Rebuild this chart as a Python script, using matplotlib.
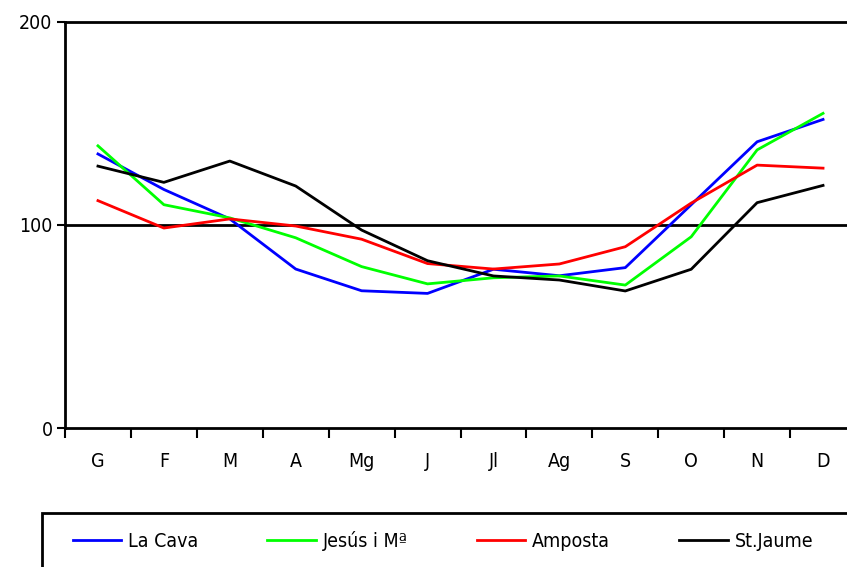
import matplotlib
matplotlib.use("Agg")
import matplotlib.pyplot as plt
from matplotlib.patches import Rectangle
import numpy as np

# month labels (Catalan)
months = ["G", "F", "M", "A", "Mg", "J", "Jl", "Ag", "S", "O", "N", "D"]

la_cava = [135, 117.5, 103, 78.3, 67.6, 66.3, 78.2, 75, 79, 110, 141, 152]
jesus = [139, 110, 103.5, 93.7, 79.5, 71, 74, 74.9, 70.4, 94.2, 137, 155]
amposta = [112, 98.5, 103, 99.5, 93, 81, 78.3, 80.8, 89.3, 110.8, 129.5, 128]
st_jaume = [129, 121, 131.5, 119.2, 97.5, 82.4, 74.9, 72.9, 67.5, 78.2, 111, 119.5]

series = [
    ("La Cava", la_cava, "#0000ff"),
    ("Jesús i Mª", jesus, "#00ff00"),
    ("Amposta", amposta, "#ff0000"),
    ("St.Jaume", st_jaume, "#000000"),
]

plt.rcParams['font.family'] = ['DejaVu Sans']
plt.rcParams['font.stretch'] = 'condensed'
fs = 14

W, H = 847, 567
fig = plt.figure(figsize=(W / 100, H / 100), dpi=100)
ax = fig.add_axes([65 / W, 1 - 428 / H, (856 - 65) / W, (428 - 22) / H])

x = np.arange(len(months))
for name, vals, col in series:
    ax.plot(x, vals, color=col, lw=2.0, label=name, clip_on=False, zorder=3)

ax.set_xlim(-0.5, len(months) - 0.5)
ax.set_ylim(0, 200)

# horizontal grid lines
for yv in [100, 200]:
    ax.axhline(yv, color="black", lw=2.0, zorder=1, clip_on=False)

for s in ["top", "right"]:
    ax.spines[s].set_visible(False)
ax.spines["left"].set_linewidth(2.0)
ax.spines["bottom"].set_linewidth(2.0)

ax.set_yticks([0, 100, 200])
ax.set_yticklabels(["0", "100", "200"], fontsize=fs)
ax.tick_params(axis="y", direction="out", length=6, width=1.5, pad=3)

# boundary ticks, labels at centres
ax.set_xticks(np.arange(-0.5, len(months) - 0.4, 1.0))
ax.set_xticklabels([])
ax.tick_params(axis="x", which="major", direction="out", length=7, width=1.5)
ax.set_xticks(x, minor=True)
ax.set_xticklabels(months, minor=True, fontsize=fs)
ax.tick_params(axis="x", which="minor", length=0, pad=17)

# legend box (runs off the bottom and right edge)
fig.patches.append(Rectangle((42 / W, -0.1), 1.0, (0.1 + 1 - 513 / H),
                             transform=fig.transFigure, fill=False,
                             edgecolor="black", lw=2.0))
fig.legend(loc="center left", bbox_to_anchor=(55 / W, 1 - 541 / H), ncol=4,
           frameon=False, fontsize=fs, handlelength=2.5, handletextpad=0.35,
           columnspacing=3.55)

fig.savefig("out.png", dpi=100)
